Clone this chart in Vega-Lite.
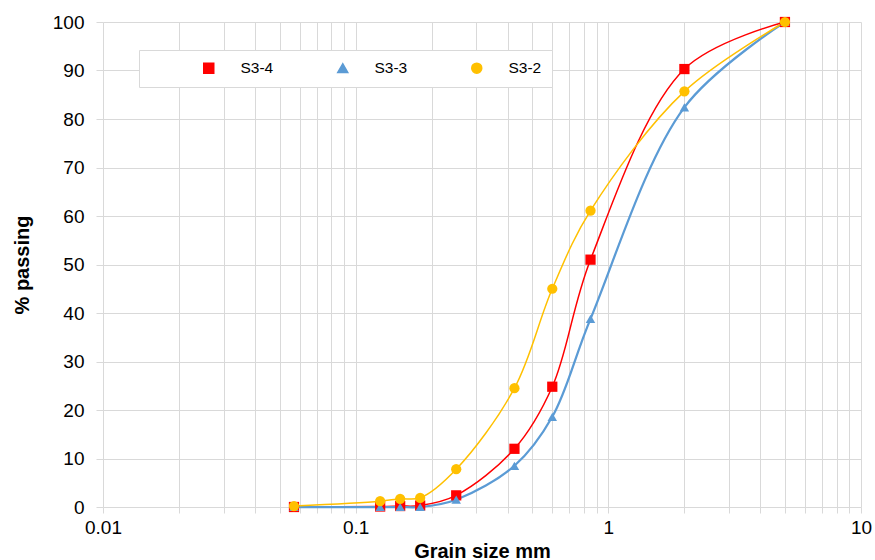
{
  "$schema": "https://vega.github.io/schema/vega-lite/v6.json",
  "width": 758,
  "height": 485,
  "autosize": "none",
  "padding": {"left": 103, "top": 22, "right": 14, "bottom": 53},
  "background": "white",
  "config": {
    "font": "Liberation Sans",
    "view": {"stroke": null},
    "axis": {"labelFont": "Liberation Sans", "titleFont": "Liberation Sans", "labelColor": "#000000", "titleColor": "#000000"}
  },
  "data": {
    "values": [
      {"series": "S3-4", "size": 0.057, "passing": 0},
      {"series": "S3-4", "size": 0.125, "passing": 0.1},
      {"series": "S3-4", "size": 0.15, "passing": 0.2},
      {"series": "S3-4", "size": 0.18, "passing": 0.3},
      {"series": "S3-4", "size": 0.25, "passing": 2.4},
      {"series": "S3-4", "size": 0.425, "passing": 12.0},
      {"series": "S3-4", "size": 0.6, "passing": 24.8},
      {"series": "S3-4", "size": 0.85, "passing": 51.0},
      {"series": "S3-4", "size": 2, "passing": 90.3},
      {"series": "S3-4", "size": 5, "passing": 100},
      {"series": "S3-3", "size": 0.057, "passing": 0},
      {"series": "S3-3", "size": 0.125, "passing": 0},
      {"series": "S3-3", "size": 0.15, "passing": 0},
      {"series": "S3-3", "size": 0.18, "passing": 0},
      {"series": "S3-3", "size": 0.25, "passing": 1.5},
      {"series": "S3-3", "size": 0.425, "passing": 8.5},
      {"series": "S3-3", "size": 0.6, "passing": 18.6},
      {"series": "S3-3", "size": 0.85, "passing": 38.8},
      {"series": "S3-3", "size": 2, "passing": 82.4},
      {"series": "S3-3", "size": 5, "passing": 100},
      {"series": "S3-2", "size": 0.057, "passing": 0.2},
      {"series": "S3-2", "size": 0.125, "passing": 1.2},
      {"series": "S3-2", "size": 0.15, "passing": 1.7},
      {"series": "S3-2", "size": 0.18, "passing": 1.9},
      {"series": "S3-2", "size": 0.25, "passing": 7.8},
      {"series": "S3-2", "size": 0.425, "passing": 24.5},
      {"series": "S3-2", "size": 0.6, "passing": 45.0},
      {"series": "S3-2", "size": 0.85, "passing": 61.1},
      {"series": "S3-2", "size": 2, "passing": 85.7},
      {"series": "S3-2", "size": 5, "passing": 100}
    ]
  },
  "encoding": {
    "x": {
      "field": "size",
      "type": "quantitative",
      "scale": {"type": "log", "domain": [0.01, 10], "nice": false},
      "axis": {
        "title": "Grain size mm",
        "titleFontSize": 20,
        "titleFontWeight": "bold",
        "titlePadding": 4,
        "values": [0.01, 0.02, 0.03, 0.04, 0.05, 0.06, 0.07, 0.08, 0.09, 0.1, 0.2, 0.3, 0.4, 0.5, 0.6, 0.7, 0.8, 0.9, 1, 2, 3, 4, 5, 6, 7, 8, 9, 10],
        "labelExpr": "abs(log(datum.value)/LN10 - round(log(datum.value)/LN10)) < 0.001 ? format(datum.value, '') : ''",
        "labelFontSize": 19,
        "labelPadding": 5,
        "labelFlush": false,
        "labelOverlap": false,
        "grid": true,
        "gridColor": "#d9d9d9",
        "gridWidth": 1,
        "domain": false,
        "tickColor": "#d9d9d9",
        "tickSize": 6,
        "encode": {
          "ticks": {"update": {"strokeOpacity": {"signal": "abs(log(datum.value)/LN10 - round(log(datum.value)/LN10)) < 0.001 ? 1 : 0"}}}
        }
      }
    },
    "y": {
      "field": "passing",
      "type": "quantitative",
      "scale": {"domain": [0, 100], "nice": false},
      "axis": {
        "title": "% passing",
        "titleFontSize": 20,
        "titleFontWeight": "bold",
        "titlePadding": 20,
        "values": [0, 10, 20, 30, 40, 50, 60, 70, 80, 90, 100],
        "labelFontSize": 19,
        "labelPadding": 12,
        "grid": true,
        "gridColor": "#d9d9d9",
        "domain": false,
        "tickColor": "#d9d9d9",
        "tickSize": 7
      }
    }
  },
  "layer": [
    {
      "mark": {"type": "line", "interpolate": "catmull-rom"},
      "encoding": {
        "color": {"field": "series", "type": "nominal", "scale": {"domain": ["S3-4", "S3-3", "S3-2"], "range": ["#ff0000", "#5b9bd5", "#ffc000"]}},
        "strokeWidth": {"condition": {"test": "datum.series === 'S3-3'", "value": 2.25}, "value": 1.5}
      }
    },
    {
      "mark": {"type": "point", "filled": true, "opacity": 1},
      "encoding": {
        "shape": {"field": "series", "type": "nominal", "scale": {"domain": ["S3-4", "S3-3", "S3-2"], "range": ["square", "triangle-up", "circle"]}, "legend": null},
        "size": {"condition": {"test": "datum.series === 'S3-3'", "value": 90}, "value": 105},
        "color": {
          "field": "series",
          "type": "nominal",
          "scale": {"domain": ["S3-4", "S3-3", "S3-2"], "range": ["#ff0000", "#5b9bd5", "#ffc000"]},
          "legend": {
            "title": null,
            "orient": "none",
            "legendX": 36,
            "legendY": 28,
            "direction": "horizontal",
            "columns": 3,
            "padding": 10,
            "strokeColor": "#d9d9d9",
            "fillColor": "white",
            "labelFontSize": 15.5,
            "labelFont": "Liberation Sans",
            "labelColor": "#000000",
            "symbolSize": 100,
            "symbolOffset": 52,
            "labelOffset": 24,
            "columnPadding": 9
          }
        }
      }
    }
  ]
}
